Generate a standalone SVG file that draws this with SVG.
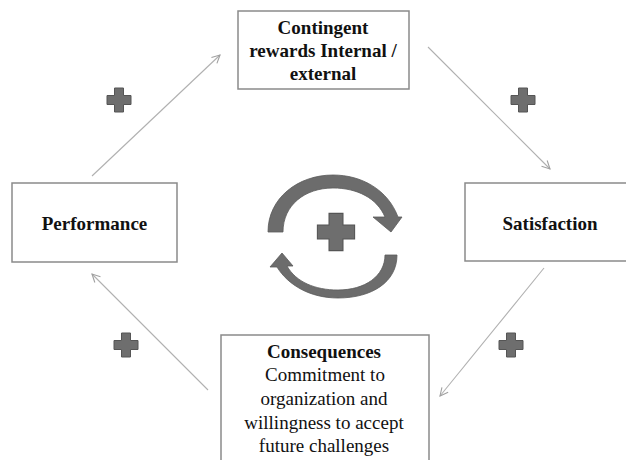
<svg xmlns="http://www.w3.org/2000/svg" width="626" height="460" viewBox="0 0 626 460">
<defs>
<style>
.box{fill:#fff;stroke:#8a8a8a;stroke-width:1.5}
.t{font-family:"Liberation Serif","Times New Roman",serif;font-size:19px;fill:#111;text-anchor:middle}
.b{font-weight:bold}
.con{stroke:#b0b0b0;stroke-width:1.1;fill:none;marker-end:url(#ah)}
.plus{fill:#6e6e6e;stroke:#555;stroke-width:1}
.arc{fill:#6c6c6c;stroke:#5a5a5a;stroke-width:0.8}
</style>
<marker id="ah" viewBox="0 0 10 10" refX="9" refY="5" markerWidth="10" markerHeight="10" markerUnits="userSpaceOnUse" orient="auto">
<path d="M1,1 L9,5 L1,9" fill="none" stroke="#a0a0a0" stroke-width="1.1"/>
</marker>
<path id="cross" d="M-4.5,-12 H4.5 V-4.5 H12 V4.5 H4.5 V12 H-4.5 V4.5 H-12 V-4.5 H-4.5 Z"/>
</defs>
<rect width="626" height="460" fill="#fff"/>
<g id="connectors">
<line class="con" x1="92" y1="176" x2="220" y2="55"/>
<line class="con" x1="428" y1="47" x2="550" y2="169"/>
<line class="con" x1="544" y1="268" x2="440" y2="396"/>
<line class="con" x1="208" y1="390" x2="92" y2="274"/>
</g>
<g id="plus-signs">
<use href="#cross" class="plus" transform="translate(119,100)"/>
<use href="#cross" class="plus" transform="translate(523,100)"/>
<use href="#cross" class="plus" transform="translate(126,345)"/>
<use href="#cross" class="plus" transform="translate(511,345)"/>
</g>
<g id="cycle">
<path class="arc" d="M268,232 C268,198 298,175 333,175 C362,175 388,190 398,217 L402,217 L391,232 L373,217 L385,217 C377,198 357,188 333,188 C305,188 283,205 283,232 Z"/>
<path class="arc" d="M397,255 C397,282 372,298 338,298 C310,298 288,285 277,267 L270,267 L282,253 L293,266 L287,266 C296,282 315,290 338,290 C365,290 385,276 385,255 Z"/>
<use href="#cross" class="plus" transform="translate(336,232) scale(1.55)" style="stroke-width:0.7"/>
</g>
<g id="node-rewards">
<rect class="box" x="238" y="11" width="171" height="78"/>
<text class="t b" x="323" y="34">Contingent</text>
<text class="t b" x="323" y="57">rewards Internal /</text>
<text class="t b" x="323" y="80">external</text>
</g>
<g id="node-performance">
<rect class="box" x="12" y="183" width="165" height="79"/>
<text class="t b" x="94.5" y="230">Performance</text>
</g>
<g id="node-satisfaction">
<rect class="box" x="465" y="183" width="170" height="78"/>
<text class="t b" x="550" y="230">Satisfaction</text>
</g>
<g id="node-consequences">
<rect class="box" x="221" y="335" width="208" height="140"/>
<text class="t b" x="324" y="358">Consequences</text>
<text class="t" x="325" y="381">Commitment to</text>
<text class="t" x="324" y="405">organization and</text>
<text class="t" x="324" y="429">willingness to accept</text>
<text class="t" x="324" y="452">future challenges</text>
</g>
</svg>
